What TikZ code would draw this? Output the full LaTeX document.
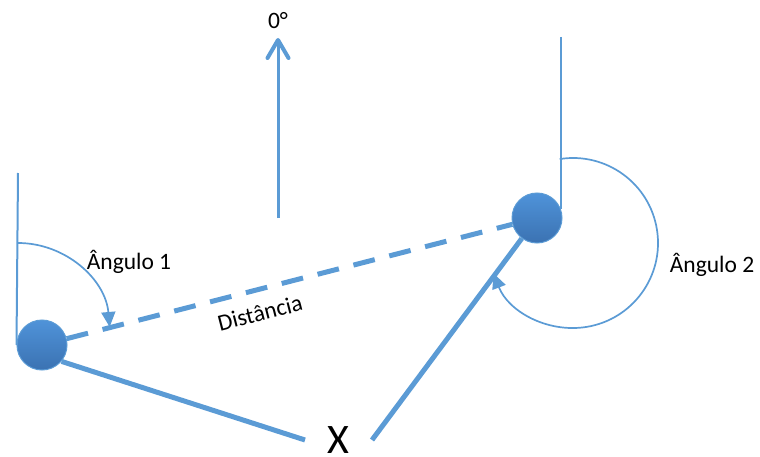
\documentclass[tikz,border=0pt]{standalone}
\usepackage{fontspec}
\setmainfont{Carlito}
\usepackage{tikz}
\usetikzlibrary{arrows.meta, positioning, calc}
\usepackage{xcolor}
\definecolor{Line}{HTML}{5B9BD5}
\definecolor{BallTop}{HTML}{4F93D9}
\definecolor{BallBot}{HTML}{3B72B2}

\begin{document}
\begin{tikzpicture}[x=1pt, y=1pt, >=Triangle,
  ball/.style={circle, minimum size=50pt, inner sep=0pt, draw=Line, line width=1pt, top color=BallTop, bottom color=BallBot},
  refline/.style={Line, line width=2pt},
  anglearc/.style={Line, line width=1.7pt, -{Triangle[length=15pt, width=14pt]}},
  leg/.style={Line, line width=5pt},
  txt/.style={font=\fontsize{23.5}{28}\selectfont}]
  \useasboundingbox (0,0) rectangle (760,456);

  \node[ball] (b1) at (42,111) {};
  \node[ball] (b2) at (537,238) {};
  \coordinate (t1) at (18,283);
  \coordinate (t2) at (561,419);
  \coordinate (xl) at (305,16);
  \coordinate (xr) at (372,16);
  \coordinate (n0) at (278,238);
  \coordinate (n1) at (278,418);

  \draw[refline] (t1) -- (b1.west);
  \draw[refline] (t2) -- (t2 |- b2.20);
  \draw[leg] (b1.-40) -- (xl);
  \draw[leg] (xr) -- (b2);
  \draw[Line, line width=5pt, dash pattern=on 22pt off 15pt] (b1) -- (b2);
  \draw[Line, line width=3pt, -{Straight Barb[length=18pt, width=21pt, line width=4pt, round]}] (n0) -- (n1);

  \draw[anglearc] ($(18,121)+(90:92)$) arc[start angle=90, end angle=5, radius=92];
  \draw[anglearc] ($(573,213)+(99:85)$) arc[start angle=99, end angle=-159, radius=85];

  \node[txt] (a1) at (129,194) {Ângulo 1};
  \node[txt] (a2) at (712,191) {Ângulo 2};
  \node[txt] (zero) at (278,435) {0°};
  \node[txt, rotate=14.4] (dist) at (260,143) {Distância};
  \node[font=\fontsize{42}{48}\selectfont, anchor=base] (xlbl) at (338,3) {X};
\end{tikzpicture}
\end{document}
